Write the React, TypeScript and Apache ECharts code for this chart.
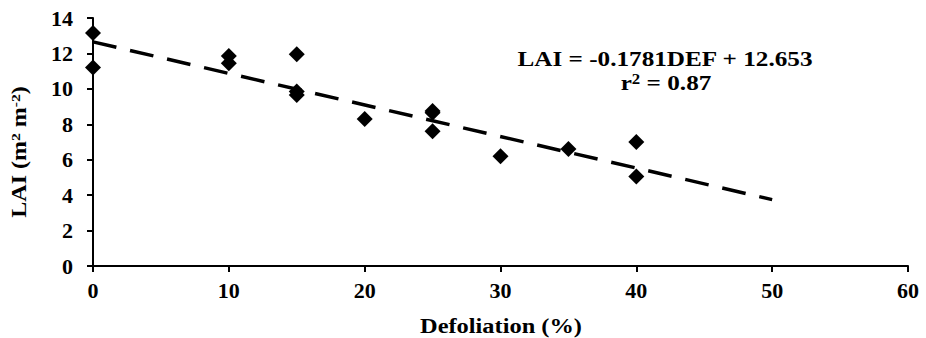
import React, { useEffect, useRef } from "react";
import * as echarts from "echarts";

const defoliation = [0, 0, 10, 10, 15, 15, 15, 20, 25, 25, 25, 30, 35, 40, 40];
const lai = [13.15, 11.2, 11.85, 11.45, 11.95, 9.85, 9.65, 8.3, 8.75, 8.65, 7.6, 6.2, 6.6, 7.0, 5.05];
const slope = -0.1781;
const intercept = 12.653;
const trendX = [0, 50];
const xTicks = [0, 10, 20, 30, 40, 50, 60];
const yTicks = [0, 2, 4, 6, 8, 10, 12, 14];

const FONT = "'Liberation Serif', 'Times New Roman', serif";

export default function App() {
  const ref = useRef<HTMLDivElement>(null);
  useEffect(() => {
    if (!ref.current) return;
    document.body.style.margin = "0";
    const chart = echarts.init(ref.current, undefined, { renderer: "svg" });
    const points = defoliation.map((x, i) => [x, lai[i]]);
    const trend = trendX.map((x) => [x, slope * x + intercept]);
    chart.setOption({
      animation: false,
      backgroundColor: "#fff",
      grid: { left: 93, right: 18, top: 18, bottom: 72 },
      xAxis: {
        type: "value",
        min: xTicks[0],
        max: xTicks[xTicks.length - 1],
        interval: 10,
        axisLine: { lineStyle: { color: "#000", width: 2 } },
        axisTick: { show: true, length: 6, lineStyle: { color: "#000", width: 2 } },
        axisLabel: { fontFamily: FONT, fontWeight: "bold", fontSize: 22, color: "#000", margin: 13 },
        splitLine: { show: false },
      },
      yAxis: {
        type: "value",
        min: yTicks[0],
        max: yTicks[yTicks.length - 1],
        interval: 2,
        axisLine: { show: true, lineStyle: { color: "#000", width: 2 } },
        axisTick: { show: true, length: 6, lineStyle: { color: "#000", width: 2 } },
        axisLabel: { fontFamily: FONT, fontWeight: "bold", fontSize: 22, color: "#000", margin: 20 },
        splitLine: { show: false },
      },
      graphic: [
        {
          type: "text",
          x: 19,
          y: 152,
          rotation: Math.PI / 2,
          scaleX: 1.2,
          style: {
            text: "{a|LAI (m}{s|2}{a| m}{s|-2}{a|)}",
            align: "center",
            verticalAlign: "middle",
            rich: {
              a: { fontFamily: FONT, fontWeight: "bold", fontSize: 20, fill: "#000", color: "#000" },
              s: { fontFamily: FONT, fontWeight: "bold", fontSize: 13, fill: "#000", color: "#000", verticalAlign: "top", padding: [0, 0, 8, 0] },
            },
          },
        },
        {
          type: "text",
          x: 501,
          y: 326,
          scaleX: 1.22,
          style: {
            text: "Defoliation (%)",
            align: "center",
            verticalAlign: "middle",
            fontFamily: FONT,
            fontWeight: "bold",
            fontSize: 20,
            fill: "#000",
          },
        },
        {
          type: "text",
          x: 665,
          y: 59,
          scaleX: 1.2,
          style: {
            text: "LAI = -0.1781DEF + 12.653",
            align: "center",
            verticalAlign: "middle",
            fontFamily: FONT,
            fontWeight: "bold",
            fontSize: 21,
            fill: "#000",
          },
        },
        {
          type: "text",
          x: 666,
          y: 83,
          scaleX: 1.2,
          style: {
            text: "{a|r}{s|2}{a| = 0.87}",
            align: "center",
            verticalAlign: "middle",
            rich: {
              a: { fontFamily: FONT, fontWeight: "bold", fontSize: 21, fill: "#000", color: "#000" },
              s: { fontFamily: FONT, fontWeight: "bold", fontSize: 14, fill: "#000", color: "#000", verticalAlign: "top", padding: [0, 0, 8, 0] },
            },
          },
        },
      ],
      series: [
        {
          type: "line",
          data: trend,
          symbol: "none",
          lineStyle: { color: "#000", width: 3.5, type: [24, 14] },
          z: 2,
        },
        {
          type: "scatter",
          data: points,
          symbol: "diamond",
          symbolSize: [16, 16],
          itemStyle: { color: "#000", opacity: 1 },
          z: 3,
        },
      ],
    });
    return () => chart.dispose();
  }, []);
  return <div ref={ref} style={{ width: 926, height: 338 }} />;
}
